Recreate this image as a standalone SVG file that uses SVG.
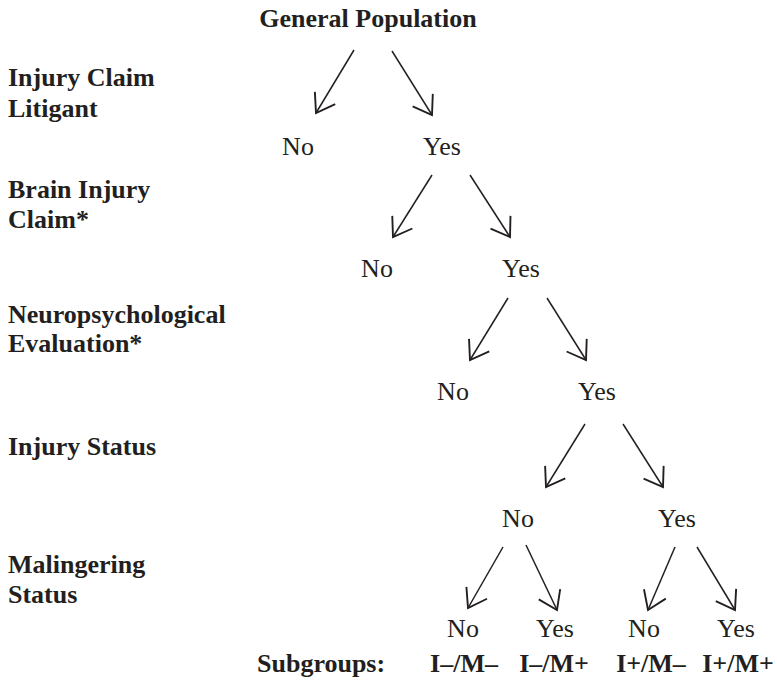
<svg xmlns="http://www.w3.org/2000/svg" width="777" height="682" viewBox="0 0 777 682">
<defs>
<style>
text{font-family:"Liberation Serif","Times New Roman",serif;font-size:26px;fill:#231f20}
.b{font-weight:bold}
.c{text-anchor:middle}
.ln{stroke:#231f20;stroke-width:1.5;fill:none;marker-end:url(#ah)}
</style>
<marker id="ah" markerUnits="userSpaceOnUse" orient="auto" refX="0" refY="0" markerWidth="30" markerHeight="30" viewBox="-16 -12 20 24" overflow="visible">
<path d="M-14,-9.5 L0,0 L-14,9.5" fill="none" stroke="#231f20" stroke-width="1.5"/>
</marker>
</defs>
<rect width="777" height="682" fill="#fff"/>
<g id="labels">
<text class="b" x="8" y="86">Injury Claim</text>
<text class="b" x="8" y="117">Litigant</text>
<text class="b" x="8" y="198">Brain Injury</text>
<text class="b" x="8" y="228">Claim*</text>
<text class="b" x="8" y="323">Neuropsychological</text>
<text class="b" x="8" y="352">Evaluation*</text>
<text class="b" x="8" y="455">Injury Status</text>
<text class="b" x="8" y="573">Malingering</text>
<text class="b" x="8" y="603">Status</text>
</g>
<g id="root"><text class="b c" x="368" y="27">General Population</text></g>
<g id="l1no"><text class="c" x="298" y="155">No</text></g>
<g id="l1yes"><text class="c" x="442" y="155">Yes</text></g>
<g id="l2no"><text class="c" x="377" y="277">No</text></g>
<g id="l2yes"><text class="c" x="521" y="277">Yes</text></g>
<g id="l3no"><text class="c" x="453" y="400">No</text></g>
<g id="l3yes"><text class="c" x="597" y="400">Yes</text></g>
<g id="l4no"><text class="c" x="518" y="527">No</text></g>
<g id="l4yes"><text class="c" x="677" y="527">Yes</text></g>
<g id="l5a"><text class="c" x="463" y="637">No</text></g>
<g id="l5b"><text class="c" x="555" y="637">Yes</text></g>
<g id="l5c"><text class="c" x="644" y="637">No</text></g>
<g id="l5d"><text class="c" x="736" y="637">Yes</text></g>
<g id="subgroups">
<text class="b" x="257" y="672">Subgroups:</text>
<text class="b c" x="464" y="672">I–/M–</text>
<text class="b c" x="554" y="672">I–/M+</text>
<text class="b c" x="651" y="672">I+/M–</text>
<text class="b c" x="738" y="672">I+/M+</text>
</g>
<g id="connectors">
<line class="ln" x1="354" y1="50" x2="316" y2="113"/>
<line class="ln" x1="392" y1="51" x2="432" y2="115"/>
<line class="ln" x1="432" y1="175" x2="393" y2="237"/>
<line class="ln" x1="470" y1="175" x2="510" y2="237"/>
<line class="ln" x1="508" y1="298" x2="470" y2="360"/>
<line class="ln" x1="547" y1="298" x2="586" y2="360"/>
<line class="ln" x1="585" y1="424" x2="546" y2="487"/>
<line class="ln" x1="623" y1="424" x2="663" y2="487"/>
<line class="ln" x1="503" y1="547" x2="468" y2="608"/>
<line class="ln" x1="526" y1="545" x2="557" y2="610"/>
<line class="ln" x1="675" y1="547" x2="648" y2="610"/>
<line class="ln" x1="697" y1="547" x2="735" y2="610"/>
</g>
</svg>
